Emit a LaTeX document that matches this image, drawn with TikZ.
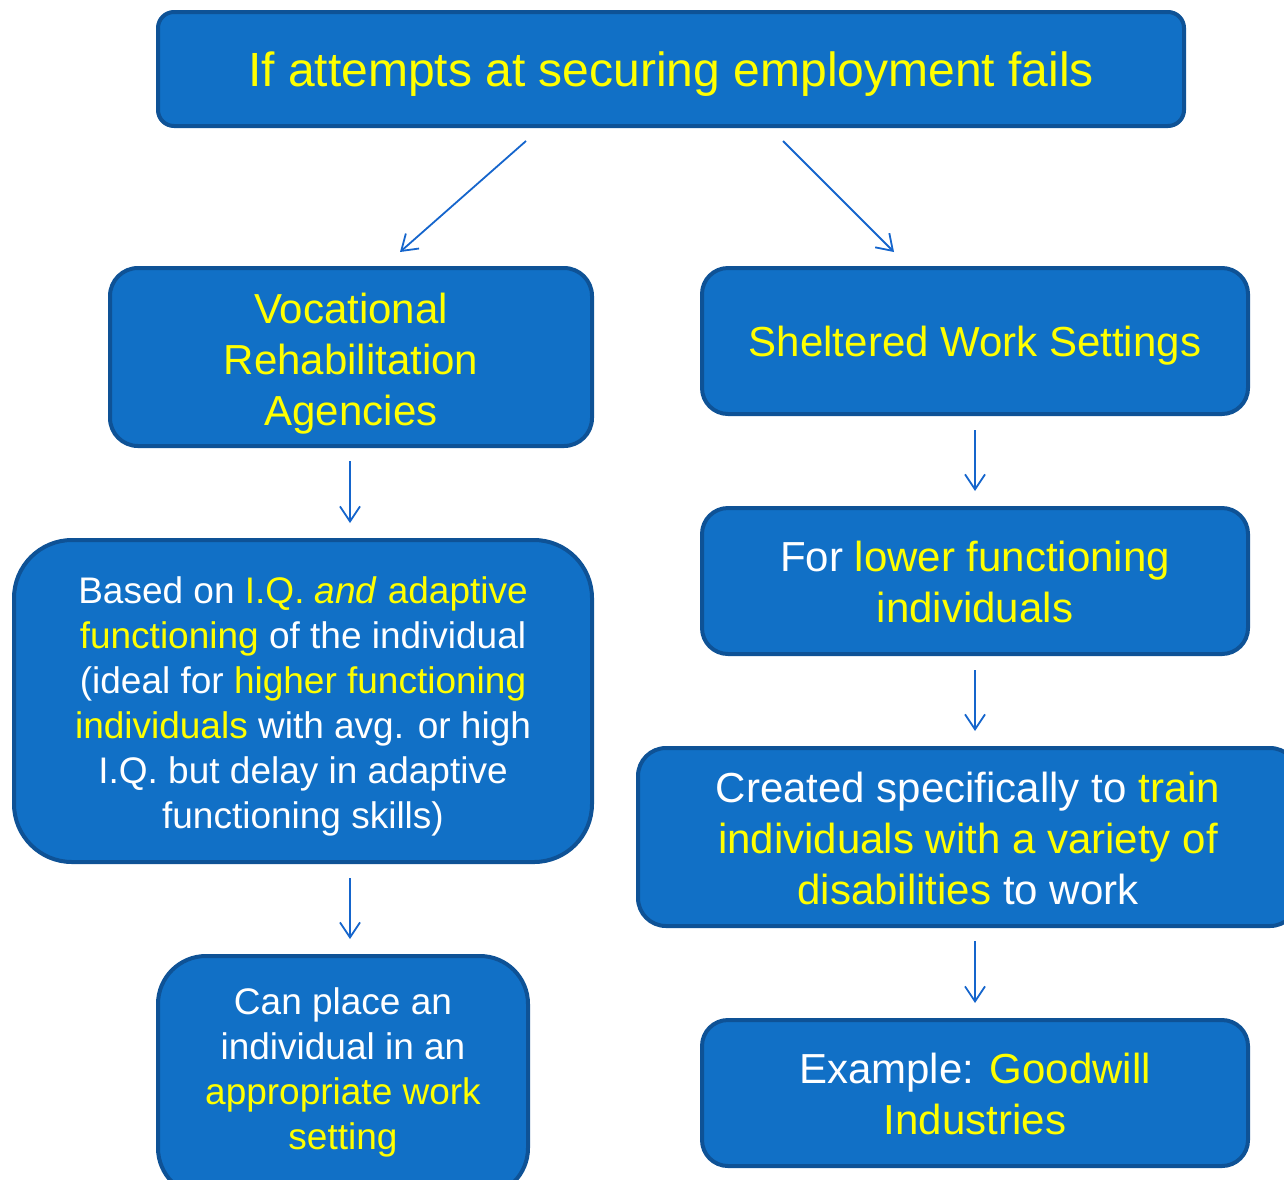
\documentclass[tikz,border=0pt]{standalone}
\usepackage{fontspec}
\setmainfont{Liberation Sans}
\usetikzlibrary{arrows.meta}
\definecolor{boxfill}{RGB}{17,112,198}
\definecolor{boxline}{RGB}{14,82,150}
\definecolor{arrowblue}{RGB}{21,101,204}
\definecolor{hl}{RGB}{255,255,0}
\tikzset{
  box/.style={draw=boxline, line width=4pt, fill=boxfill, text=white, align=center, inner sep=0pt},
  big/.style={font={\fontsize{42}{51}\selectfont}},
  small/.style={font={\fontsize{37}{45}\selectfont}},
  conn/.style={draw=arrowblue, line width=1.8pt, -{Straight Barb[length=15pt,width=20pt,line width=1.8pt]}},
}
\newcommand{\Y}[1]{\textcolor{hl}{#1}}
% invisible struts used to nudge text vertically inside a box
\newcommand{\tallstrut}[1]{\rule{0pt}{#1}}
\newcommand{\deepstrut}[1]{\rule[-#1]{0pt}{0pt}}
\begin{document}
\begin{tikzpicture}[x=1pt,y=-1pt]
\useasboundingbox (0,0) rectangle (1284,1179);
\clip (0,0) rectangle (1284,1179);
% boxes
\node[box, font={\fontsize{48}{58}\selectfont}, rounded corners=16pt, minimum width=1026pt, minimum height=114pt] (top) at (671,69)
  {\tallstrut{45pt}\Y{If attempts at securing employment fails}};
\node[box, big, rounded corners=28pt, minimum width=482pt, minimum height=178pt] (voc) at (351,357)
  {\tallstrut{43pt}\Y{Vocational}\\\Y{Rehabilitation}\\\Y{Agencies}};
\node[box, big, rounded corners=26pt, minimum width=546pt, minimum height=146pt] (shel) at (975,341)
  {\tallstrut{39pt}\Y{Sheltered Work Settings}};
\node[box, small, rounded corners=58pt, minimum width=578pt, minimum height=322pt] (based) at (303,701)
  {\tallstrut{37pt}Based on \Y{I.Q. \textit{and} adaptive}\\
   \Y{functioning} of the individual\\
   (ideal for \Y{higher functioning}\\
   \Y{individuals} with avg. or high\\
   I.Q. but delay in adaptive\\
   functioning skills)};
\node[box, big, rounded corners=26pt, minimum width=546pt, minimum height=146pt] (lower) at (975,581)
  {\tallstrut{33pt}For \Y{lower functioning}\\\Y{individuals}};
\node[box, big, rounded corners=28pt, minimum width=660pt, minimum height=178pt] (created) at (968,837)
  {\tallstrut{33pt}Created specifically to \Y{train}\\\Y{individuals with a variety of}\\\Y{disabilities} to work};
\node[box, small, rounded corners=48pt, minimum width=370pt, minimum height=240pt] (place) at (343,1076)
  {Can place an\\individual in an\\\Y{appropriate work}\\\Y{setting}\deepstrut{14pt}};
\node[box, big, rounded corners=26pt, minimum width=546pt, minimum height=146pt] (example) at (975,1093)
  {\tallstrut{33pt}Example: \Y{Goodwill}\\\Y{Industries}};
% connector end points
\coordinate (a1s) at (526,141); \coordinate (a1e) at (400,252);
\coordinate (a2s) at (783,141); \coordinate (a2e) at (894,252);
\coordinate (a3s) at (350,461); \coordinate (a3e) at (350,523);
\coordinate (a4s) at (975,430); \coordinate (a4e) at (975,491);
\coordinate (a5s) at (975,670); \coordinate (a5e) at (975,731);
\coordinate (a6s) at (350,878); \coordinate (a6e) at (350,939);
\coordinate (a7s) at (975,941); \coordinate (a7e) at (975,1003);
\draw[conn] (a1s) -- (a1e);
\draw[conn] (a2s) -- (a2e);
\draw[conn] (a3s) -- (a3e);
\draw[conn] (a4s) -- (a4e);
\draw[conn] (a5s) -- (a5e);
\draw[conn] (a6s) -- (a6e);
\draw[conn] (a7s) -- (a7e);
\end{tikzpicture}
\end{document}
